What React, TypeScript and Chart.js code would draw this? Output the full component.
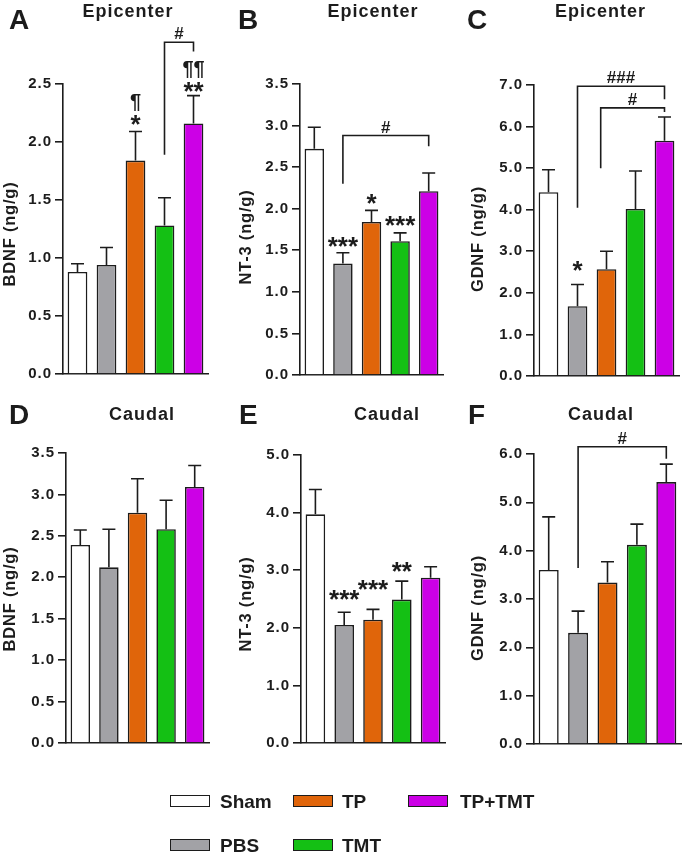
import React, { useEffect, useRef } from "react";
import { Chart, registerables } from "chart.js";

Chart.register(...registerables);

// ---------- data ----------
const categories = ["Sham", "PBS", "TP", "TMT", "TP+TMT"];
const barColors = ["#ffffff", "#a2a2a6", "#e0650a", "#14c014", "#cc00e6"];

// A: BDNF epicenter
const bdnfEpiMean = [0.88, 0.94, 1.84, 1.28, 2.16];
const bdnfEpiSem = [0.07, 0.15, 0.25, 0.24, 0.24];
const bdnfEpiStars = ["", "", "*", "", "**"];
const bdnfEpiPilcrows = ["", "", "¶", "", "¶¶"];
const bdnfEpiTicks = [0, 0.5, 1.0, 1.5, 2.0, 2.5];
const bdnfEpiBrackets = [{ from: 3, to: 4, top: 2.86, fromEnd: 1.89, toEnd: 2.78, label: "#" }];

// B: NT-3 epicenter
const nt3EpiMean = [2.72, 1.34, 1.84, 1.61, 2.21];
const nt3EpiSem = [0.26, 0.13, 0.14, 0.10, 0.22];
const nt3EpiStars = ["", "***", "*", "***", ""];
const nt3EpiPilcrows = ["", "", "", "", ""];
const nt3EpiTicks = [0, 0.5, 1.0, 1.5, 2.0, 2.5, 3.0, 3.5];
const nt3EpiBrackets = [{ from: 1, to: 4, top: 2.88, fromEnd: 2.3, toEnd: 2.75, label: "#" }];

// C: GDNF epicenter
const gdnfEpiMean = [4.42, 1.68, 2.57, 4.02, 5.66];
const gdnfEpiSem = [0.54, 0.52, 0.43, 0.91, 0.57];
const gdnfEpiStars = ["", "*", "", "", ""];
const gdnfEpiPilcrows = ["", "", "", "", ""];
const gdnfEpiTicks = [0, 1, 2, 3, 4, 5, 6, 7];
const gdnfEpiBrackets = [
  { from: 1, to: 4, top: 6.97, fromEnd: 4.05, toEnd: 6.66, label: "###" },
  { from: 1.8, to: 4, top: 6.45, fromEnd: 5.0, toEnd: 6.35, label: "#" },
];

// D: BDNF caudal
const bdnfCauMean = [2.39, 2.12, 2.78, 2.58, 3.09];
const bdnfCauSem = [0.18, 0.46, 0.41, 0.35, 0.26];
const bdnfCauStars = ["", "", "", "", ""];
const bdnfCauPilcrows = ["", "", "", "", ""];
const bdnfCauTicks = [0, 0.5, 1.0, 1.5, 2.0, 2.5, 3.0, 3.5];
const bdnfCauBrackets: Bracket[] = [];

// E: NT-3 caudal
const nt3CauMean = [3.97, 2.05, 2.14, 2.49, 2.87];
const nt3CauSem = [0.43, 0.22, 0.18, 0.32, 0.19];
const nt3CauStars = ["", "***", "***", "**", ""];
const nt3CauPilcrows = ["", "", "", "", ""];
const nt3CauTicks = [0, 1, 2, 3, 4, 5];
const nt3CauBrackets: Bracket[] = [];

// F: GDNF caudal
const gdnfCauMean = [3.6, 2.3, 3.34, 4.12, 5.42];
const gdnfCauSem = [1.1, 0.45, 0.43, 0.43, 0.37];
const gdnfCauStars = ["", "", "", "", ""];
const gdnfCauPilcrows = ["", "", "", "", ""];
const gdnfCauTicks = [0, 1, 2, 3, 4, 5, 6];
const gdnfCauBrackets = [{ from: 1, to: 4, top: 6.15, fromEnd: 3.64, toEnd: 5.9, label: "#" }];

// ---------- layout / style ----------
type Bracket = { from: number; to: number; top: number; fromEnd: number; toEnd: number; label: string };

const W = 684;
const H = 853;
const AXW = 50;
const INK = "#1c1c1c";
const FONT = '"Liberation Sans", Arial, Helvetica, sans-serif';

interface Panel {
  letter: string;
  title: string;
  yTitle: string;
  mean: number[];
  sem: number[];
  ticks: number[];
  stars: string[];
  pilcrows: string[];
  brackets: Bracket[];
  box: { left: number; right: number; top: number; bottom: number };
  starGaps: number[];
  letterPos: [number, number];
  titlePos: [number, number];
  yTitlePos: [number, number];
}

const panels: Panel[] = [
  {
    letter: "A", title: "Epicenter", yTitle: "BDNF (ng/g)",
    mean: bdnfEpiMean, sem: bdnfEpiSem, ticks: bdnfEpiTicks, stars: bdnfEpiStars, pilcrows: bdnfEpiPilcrows, brackets: bdnfEpiBrackets,
    box: { left: 63, right: 208, top: 84, bottom: 374 }, starGaps: [6, 6, 7, 6, 4],
    letterPos: [10, 20], titlePos: [128, 11], yTitlePos: [9, 233.5],
  },
  {
    letter: "B", title: "Epicenter", yTitle: "NT-3 (ng/g)",
    mean: nt3EpiMean, sem: nt3EpiSem, ticks: nt3EpiTicks, stars: nt3EpiStars, pilcrows: nt3EpiPilcrows, brackets: nt3EpiBrackets,
    box: { left: 300, right: 443, top: 84, bottom: 375 }, starGaps: [6, 6, 6, 7, 6],
    letterPos: [239, 20], titlePos: [373, 11], yTitlePos: [244.5, 237],
  },
  {
    letter: "C", title: "Epicenter", yTitle: "GDNF (ng/g)",
    mean: gdnfEpiMean, sem: gdnfEpiSem, ticks: gdnfEpiTicks, stars: gdnfEpiStars, pilcrows: gdnfEpiPilcrows, brackets: gdnfEpiBrackets,
    box: { left: 534, right: 679, top: 85, bottom: 376 }, starGaps: [6, 14, 6, 6, 6],
    letterPos: [468, 20], titlePos: [600.5, 11], yTitlePos: [477, 239],
  },
  {
    letter: "D", title: "Caudal", yTitle: "BDNF (ng/g)",
    mean: bdnfCauMean, sem: bdnfCauSem, ticks: bdnfCauTicks, stars: bdnfCauStars, pilcrows: bdnfCauPilcrows, brackets: bdnfCauBrackets,
    box: { left: 66, right: 209, top: 453, bottom: 743 }, starGaps: [6, 6, 6, 6, 6],
    letterPos: [10, 414.5], titlePos: [142, 414], yTitlePos: [8.5, 598.5],
  },
  {
    letter: "E", title: "Caudal", yTitle: "NT-3 (ng/g)",
    mean: nt3CauMean, sem: nt3CauSem, ticks: nt3CauTicks, stars: nt3CauStars, pilcrows: nt3CauPilcrows, brackets: nt3CauBrackets,
    box: { left: 301, right: 445, top: 455, bottom: 743 }, starGaps: [6, 12, 19, 9, 6],
    letterPos: [240, 414.5], titlePos: [387, 414], yTitlePos: [245, 603.5],
  },
  {
    letter: "F", title: "Caudal", yTitle: "GDNF (ng/g)",
    mean: gdnfCauMean, sem: gdnfCauSem, ticks: gdnfCauTicks, stars: gdnfCauStars, pilcrows: gdnfCauPilcrows, brackets: gdnfCauBrackets,
    box: { left: 534, right: 681, top: 454, bottom: 744 }, starGaps: [6, 6, 6, 6, 6],
    letterPos: [469, 414.5], titlePos: [601, 414], yTitlePos: [477, 607.5],
  },
];

// legend layout: [category index, box left, text left, row center y]
const legendItems: [number, number, number, number][] = [
  [0, 170, 220, 800.5],
  [2, 293, 342, 800.5],
  [4, 408, 460, 800.5],
  [1, 170, 220, 845],
  [3, 293, 342, 845],
];

function makeAnnotPlugin(p: Panel) {
  return {
    id: "annot" + p.letter,
    beforeDraw(chart: any) {
      chart.ctx.letterSpacing = "1px";
    },
    afterDatasetsDraw(chart: any) {
      const ctx: CanvasRenderingContext2D = chart.ctx;
      const meta = chart.getDatasetMeta(0);
      const ys = chart.scales.y;
      const xs = chart.scales.x;
      ctx.save();
      (ctx as any).letterSpacing = "0px";
      ctx.strokeStyle = INK;
      ctx.fillStyle = INK;
      ctx.lineWidth = 1.6;
      ctx.textAlign = "center";
      ctx.textBaseline = "alphabetic";
      p.mean.forEach((m, i) => {
        const cx = meta.data[i].x;
        const y0 = ys.getPixelForValue(m);
        const y1 = ys.getPixelForValue(m + p.sem[i]);
        ctx.beginPath();
        ctx.moveTo(cx, y0);
        ctx.lineTo(cx, y1);
        ctx.moveTo(cx - 6.5, y1);
        ctx.lineTo(cx + 6.5, y1);
        ctx.stroke();
        let top = y1;
        if (p.stars[i]) {
          ctx.font = `bold 26px ${FONT}`;
          const mt = ctx.measureText(p.stars[i]);
          const base = y1 - p.starGaps[i] - mt.actualBoundingBoxDescent;
          ctx.fillText(p.stars[i], cx, base);
          top = base - mt.actualBoundingBoxAscent;
        }
        if (p.pilcrows[i]) {
          ctx.font = `bold 20px ${FONT}`;
          const mt = ctx.measureText(p.pilcrows[i]);
          const base = top - 4 - mt.actualBoundingBoxDescent;
          ctx.fillText(p.pilcrows[i], cx, base);
        }
      });
      p.brackets.forEach((b) => {
        const x1 = xs.getPixelForValue(b.from);
        const x2 = xs.getPixelForValue(b.to);
        const yt = ys.getPixelForValue(b.top);
        ctx.beginPath();
        ctx.moveTo(x1, ys.getPixelForValue(b.fromEnd));
        ctx.lineTo(x1, yt);
        ctx.lineTo(x2, yt);
        ctx.lineTo(x2, ys.getPixelForValue(b.toEnd));
        ctx.stroke();
        ctx.font = `bold 17px ${FONT}`;
        const mt = ctx.measureText(b.label);
        ctx.fillText(b.label, (x1 + x2) / 2, yt - 3 - mt.actualBoundingBoxDescent);
      });
      ctx.restore();
    },
    afterDraw(chart: any) {
      chart.ctx.letterSpacing = "0px";
    },
  };
}

function PanelChart({ p }: { p: Panel }) {
  const ref = useRef<HTMLCanvasElement | null>(null);
  useEffect(() => {
    if (!ref.current) return;
    const ticks = p.ticks;
    const chart = new Chart(ref.current, {
      type: "bar",
      data: {
        labels: categories,
        datasets: [
          {
            data: p.mean,
            backgroundColor: barColors,
            borderColor: INK,
            borderWidth: 1.6,
            barPercentage: 0.68,
            categoryPercentage: 1,
          },
        ],
      },
      options: {
        responsive: false,
        animation: false,
        events: [],
        layout: {
          padding: {
            left: p.box.left - AXW,
            right: W - p.box.right,
            top: p.box.top,
            bottom: H - p.box.bottom,
          },
        },
        plugins: { legend: { display: false }, tooltip: { enabled: false }, title: { display: false } },
        scales: {
          x: {
            type: "category",
            offset: true,
            grid: { display: false },
            border: { display: true, color: INK, width: 1.6 },
            ticks: { display: false },
            afterFit: (s: any) => {
              s.height = 0;
            },
          },
          y: {
            min: ticks[0],
            max: ticks[ticks.length - 1],
            afterBuildTicks: (s: any) => {
              s.ticks = ticks.map((v) => ({ value: v }));
            },
            ticks: {
              callback: (v: any) => Number(v).toFixed(1),
              font: { family: FONT, size: 15, weight: "bold" },
              color: INK,
              padding: 3,
            },
            grid: {
              display: true,
              drawOnChartArea: false,
              drawTicks: true,
              tickLength: 8,
              color: INK,
              lineWidth: 1.6,
            },
            border: { display: true, color: INK, width: 1.6 },
            afterFit: (s: any) => {
              s.width = AXW;
            },
          },
        },
      } as any,
      plugins: [makeAnnotPlugin(p) as any],
    });
    return () => chart.destroy();
  }, [p]);
  return (
    <canvas
      ref={ref}
      width={W}
      height={H}
      style={{ position: "absolute", left: 0, top: 0, width: W, height: H }}
    />
  );
}

const textBase: React.CSSProperties = {
  position: "absolute",
  fontFamily: FONT,
  fontWeight: "bold",
  color: INK,
  whiteSpace: "nowrap",
  lineHeight: 1,
};

export default function App() {
  return (
    <div
      style={{
        position: "absolute",
        left: 0,
        top: 0,
        width: W,
        height: H,
        background: "#ffffff",
        overflow: "hidden",
      }}
    >
      {panels.map((p) => (
        <PanelChart key={p.letter} p={p} />
      ))}
      {panels.map((p) => (
        <React.Fragment key={"t" + p.letter}>
          <div
            style={{
              ...textBase,
              fontSize: 28,
              left: p.letterPos[0] - 1,
              top: p.letterPos[1],
              transform: "translateY(-50%)",
            }}
          >
            {p.letter}
          </div>
          <div
            style={{
              ...textBase,
              fontSize: 18,
              letterSpacing: "1px",
              left: p.titlePos[0],
              top: p.titlePos[1],
              transform: "translate(-50%, -50%)",
            }}
          >
            {p.title}
          </div>
          <div
            style={{
              ...textBase,
              fontSize: 16.5,
              letterSpacing: "0.8px",
              left: p.yTitlePos[0],
              top: p.yTitlePos[1],
              transform: "translate(-50%, -50%) rotate(-90deg)",
            }}
          >
            {p.yTitle}
          </div>
        </React.Fragment>
      ))}
      {legendItems.map(([ci, bx, tx, cy]) => (
        <React.Fragment key={"l" + ci}>
          <div
            style={{
              position: "absolute",
              left: bx,
              top: cy - 6,
              width: 40,
              height: 12,
              boxSizing: "border-box",
              border: `1.6px solid ${INK}`,
              background: barColors[ci],
            }}
          />
          <div
            style={{
              ...textBase,
              fontSize: 19,
              left: tx,
              top: cy,
              transform: "translateY(-50%)",
            }}
          >
            {categories[ci]}
          </div>
        </React.Fragment>
      ))}
    </div>
  );
}
